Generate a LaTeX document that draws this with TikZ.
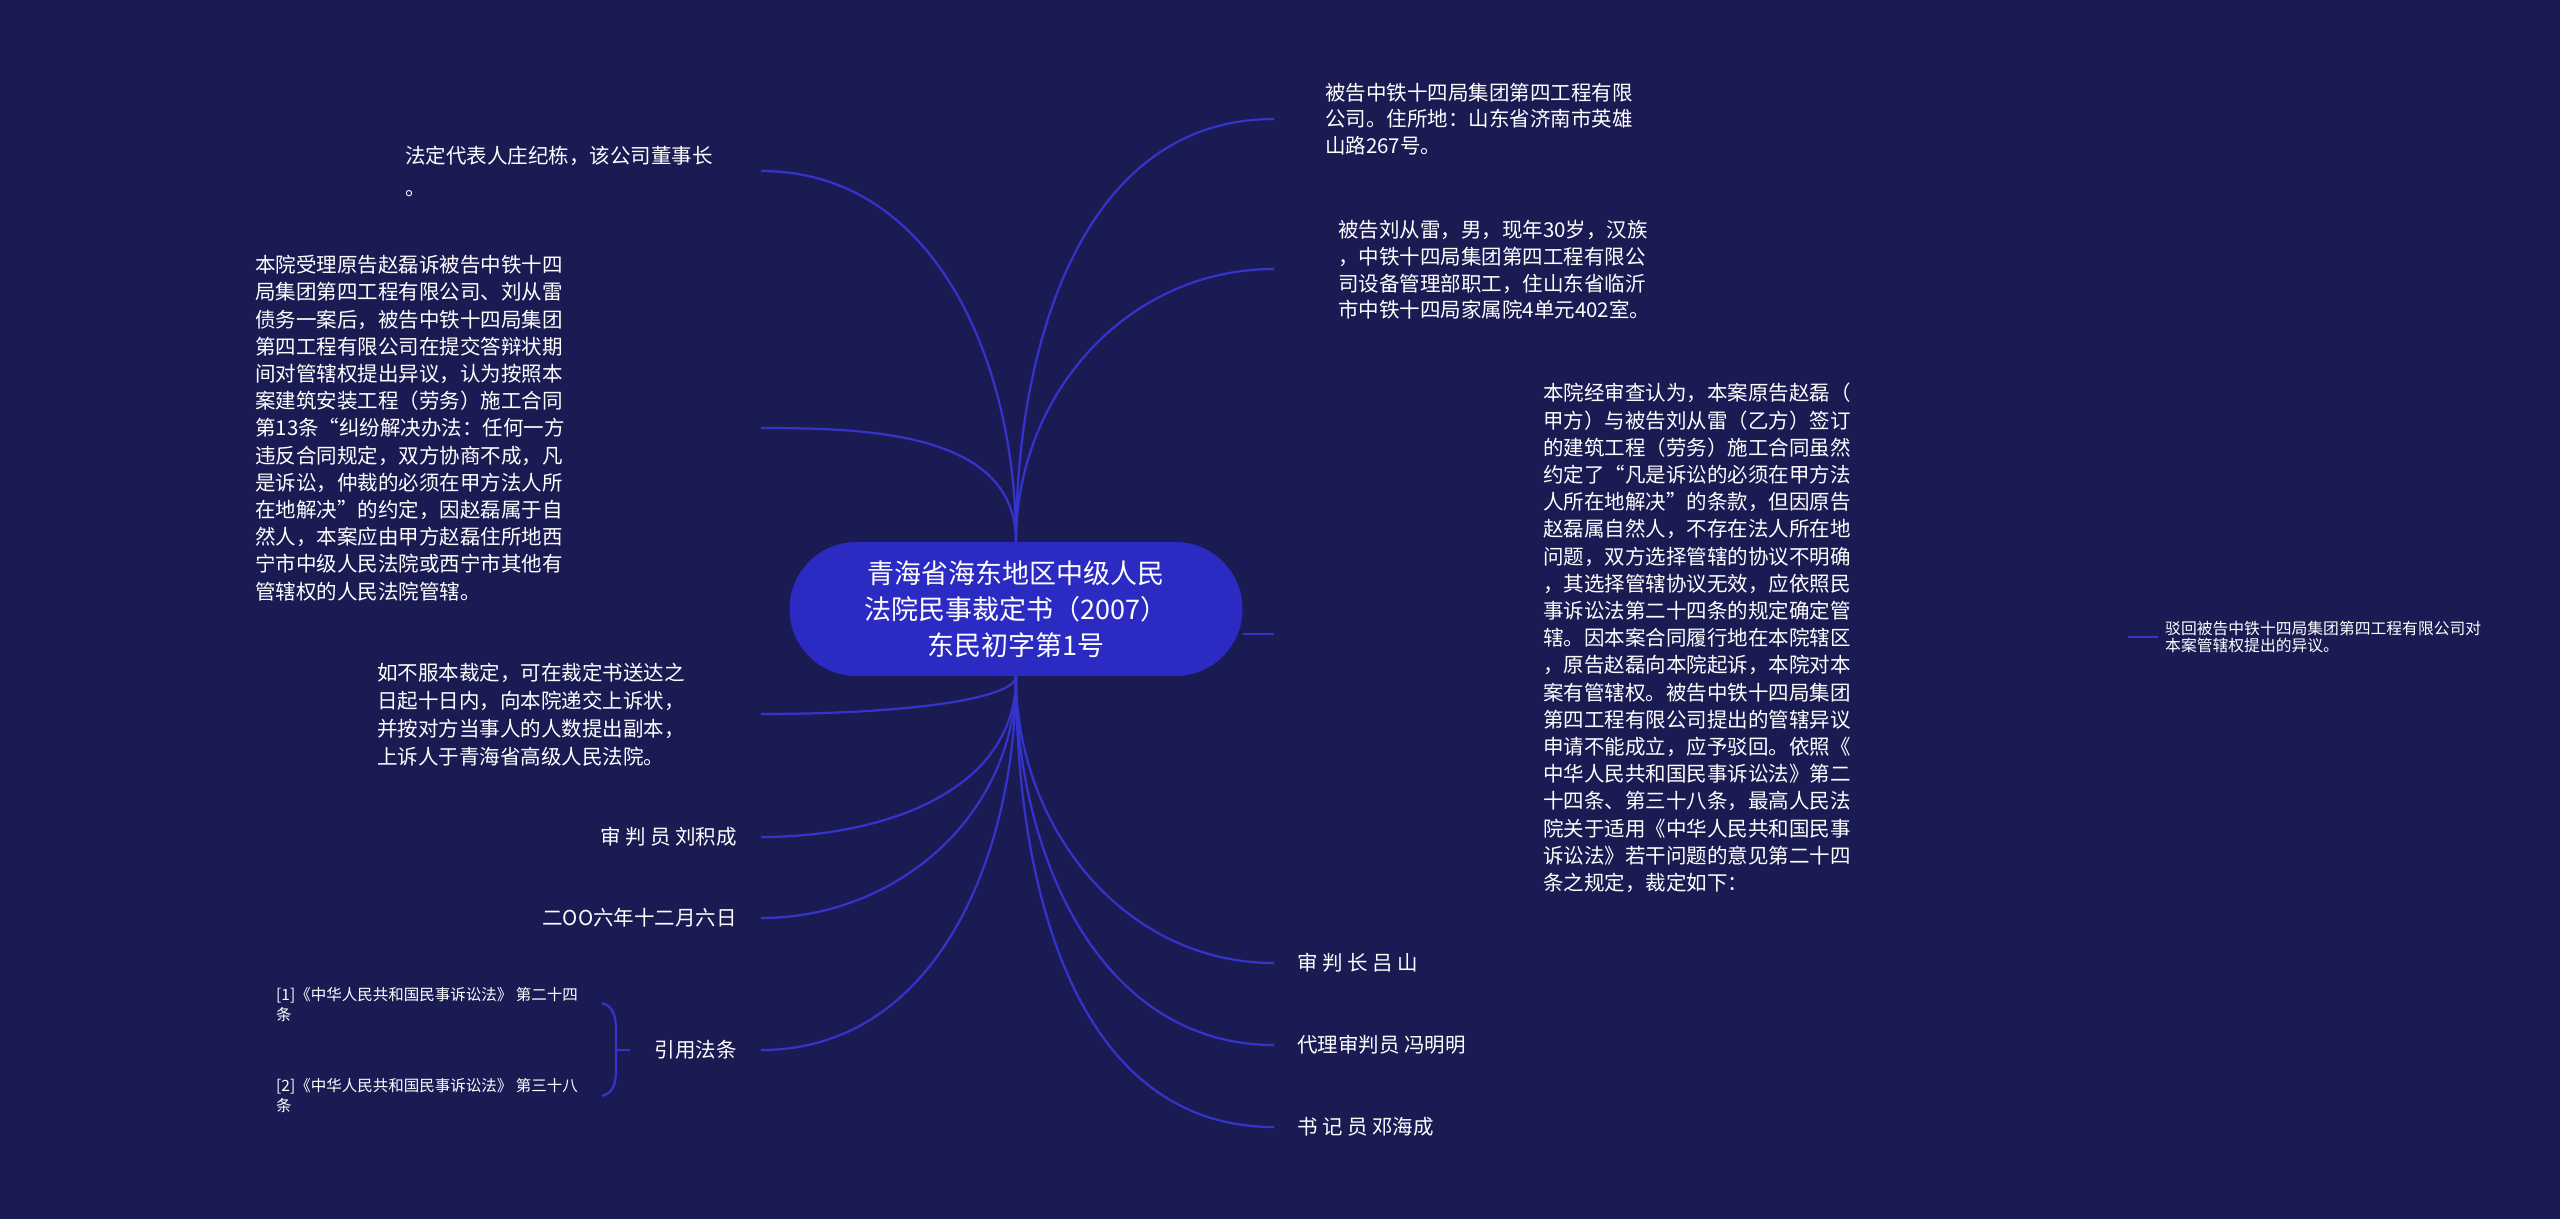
\documentclass[tikz,border=0pt]{standalone}
\usepackage{fontspec}
\setmainfont{Noto Sans CJK SC}
\usetikzlibrary{positioning}
\definecolor{bgColor}{RGB}{27,27,84}
\definecolor{rootColor}{RGB}{43,43,196}
\definecolor{branchColor}{RGB}{52,52,204}

\begin{document}
\begin{tikzpicture}[x=1pt, y=1pt,
    root/.style={fill=rootColor, text=white, rounded corners=67pt, minimum width=453pt,
      minimum height=134pt, align=center, font=\fontsize{27}{36}\selectfont},
    leaf/.style={text=white, inner sep=0pt, align=left, font=\fontsize{20.5}{27.2}\selectfont},
    small/.style={leaf, font=\fontsize{15.5}{20}\selectfont},
    branch/.style={branchColor, line width=2.2pt}]

  % 1. FONDO (lienzo completo)
  \fill[bgColor] (0,0) rectangle (2560,-1219);
  \useasboundingbox (0,0) rectangle (2560,-1219);

  % 2. NODO CENTRAL
  \node[root] (root) at (1016,-609) {青海省海东地区中级人民\\法院民事裁定书（2007）\\东民初字第1号};

  % 3. EXTREMOS DE LAS RAMAS
  \coordinate (e-rep) at (761,-171);
  \coordinate (e-accept) at (761,-428);
  \coordinate (e-appeal) at (761,-714);
  \coordinate (e-judge) at (761,-837);
  \coordinate (e-date) at (761,-918);
  \coordinate (e-cite) at (761,-1050);
  \coordinate (e-co) at (1274,-119);
  \coordinate (e-liu) at (1274,-269);
  \coordinate (e-find) at (1274,-634);
  \coordinate (e-chief) at (1274,-963);
  \coordinate (e-agent) at (1274,-1045);
  \coordinate (e-clerk) at (1274,-1127);
  \coordinate (s-dismiss) at (2128,-637);

  % 4. TEXTOS (lado izquierdo)
  \node[leaf, anchor=west, font=\fontsize{20.5}{32}\selectfont] (rep) at (405,-171) {法定代表人庄纪栋，该公司董事长\\。};
  \node[leaf, anchor=west] (accept) at (255,-428) {本院受理原告赵磊诉被告中铁十四\\局集团第四工程有限公司、刘从雷\\债务一案后，被告中铁十四局集团\\第四工程有限公司在提交答辩状期\\间对管辖权提出异议，认为按照本\\案建筑安装工程（劳务）施工合同\\第13条“纠纷解决办法：任何一方\\违反合同规定，双方协商不成，凡\\是诉讼，仲裁的必须在甲方法人所\\在地解决”的约定，因赵磊属于自\\然人，本案应由甲方赵磊住所地西\\宁市中级人民法院或西宁市其他有\\管辖权的人民法院管辖。};
  \node[leaf, anchor=west, font=\fontsize{20.5}{28}\selectfont] (appeal) at (377,-715) {如不服本裁定，可在裁定书送达之\\日起十日内，向本院递交上诉状，\\并按对方当事人的人数提出副本，\\上诉人于青海省高级人民法院。};
  \node[leaf, left=24pt of e-judge] (judge) {审 判 员 刘积成};
  \node[leaf, left=24pt of e-date] (date) {二OO六年十二月六日};
  \node[leaf, left=24pt of e-cite] (cite) {引用法条};
  \node[small, anchor=west] (law1) at (276,-1005) {[1]《中华人民共和国民事诉讼法》 第二十四\\条};
  \node[small, anchor=west] (law2) at (276,-1096) {[2]《中华人民共和国民事诉讼法》 第三十八\\条};

  % 5. TEXTOS (lado derecho)
  \node[leaf, anchor=west, font=\fontsize{20.5}{26.5}\selectfont] (co) at (1325,-119) {被告中铁十四局集团第四工程有限\\公司。住所地：山东省济南市英雄\\山路267号。};
  \node[leaf, anchor=west, font=\fontsize{20.5}{26.7}\selectfont] (liu) at (1338,-270) {被告刘从雷，男，现年30岁，汉族\\，中铁十四局集团第四工程有限公\\司设备管理部职工，住山东省临沂\\市中铁十四局家属院4单元402室。};
  \node[leaf, anchor=west] (find) at (1543,-638) {本院经审查认为，本案原告赵磊（\\甲方）与被告刘从雷（乙方）签订\\的建筑工程（劳务）施工合同虽然\\约定了“凡是诉讼的必须在甲方法\\人所在地解决”的条款，但因原告\\赵磊属自然人，不存在法人所在地\\问题，双方选择管辖的协议不明确\\，其选择管辖协议无效，应依照民\\事诉讼法第二十四条的规定确定管\\辖。因本案合同履行地在本院辖区\\，原告赵磊向本院起诉，本院对本\\案有管辖权。被告中铁十四局集团\\第四工程有限公司提出的管辖异议\\申请不能成立，应予驳回。依照《\\中华人民共和国民事诉讼法》第二\\十四条、第三十八条，最高人民法\\院关于适用《中华人民共和国民事\\诉讼法》若干问题的意见第二十四\\条之规定，裁定如下：};
  \node[small, anchor=west, font=\fontsize{15.8}{16.5}\selectfont] (dismiss) at (2165,-637) {驳回被告中铁十四局集团第四工程有限公司对\\本案管辖权提出的异议。};
  \node[leaf, right=23pt of e-chief] (chief) {审 判 长 吕 山};
  \node[leaf, right=23pt of e-agent] (agent) {代理审判员 冯明明};
  \node[leaf, right=23pt of e-clerk] (clerk) {书 记 员 邓海成};

  % 6. RAMAS (curvas desde el nodo central)
  \foreach \e in {rep, accept} { \draw[branch] (root.north) to[out=90, in=0] (e-\e); }
  \foreach \e in {co, liu} { \draw[branch] (root.north) to[out=90, in=180] (e-\e); }
  \draw[branch] (root.south) to[out=-90, in=0, out distance=22pt, in distance=150pt] (e-appeal);
  \foreach \e in {judge, date, cite} { \draw[branch] (root.south) to[out=-90, in=0] (e-\e); }
  \foreach \e in {chief, agent, clerk} { \draw[branch] (root.south) to[out=-90, in=180] (e-\e); }
  \draw[branch] ([yshift=-25pt]root.east) -- (e-find);
  \draw[branch] (s-dismiss) -- ([xshift=-7pt]dismiss.west);

  % 7. LLAVE de las citas
  \draw[branch] (602,-1003) .. controls (613,-1006) and (616,-1016) .. (616,-1030) -- (616,-1070)
    .. controls (616,-1084) and (613,-1093) .. (602,-1096);
  \draw[branch] (616,-1050) -- ([xshift=-25pt]cite.west);

\end{tikzpicture}
\end{document}
